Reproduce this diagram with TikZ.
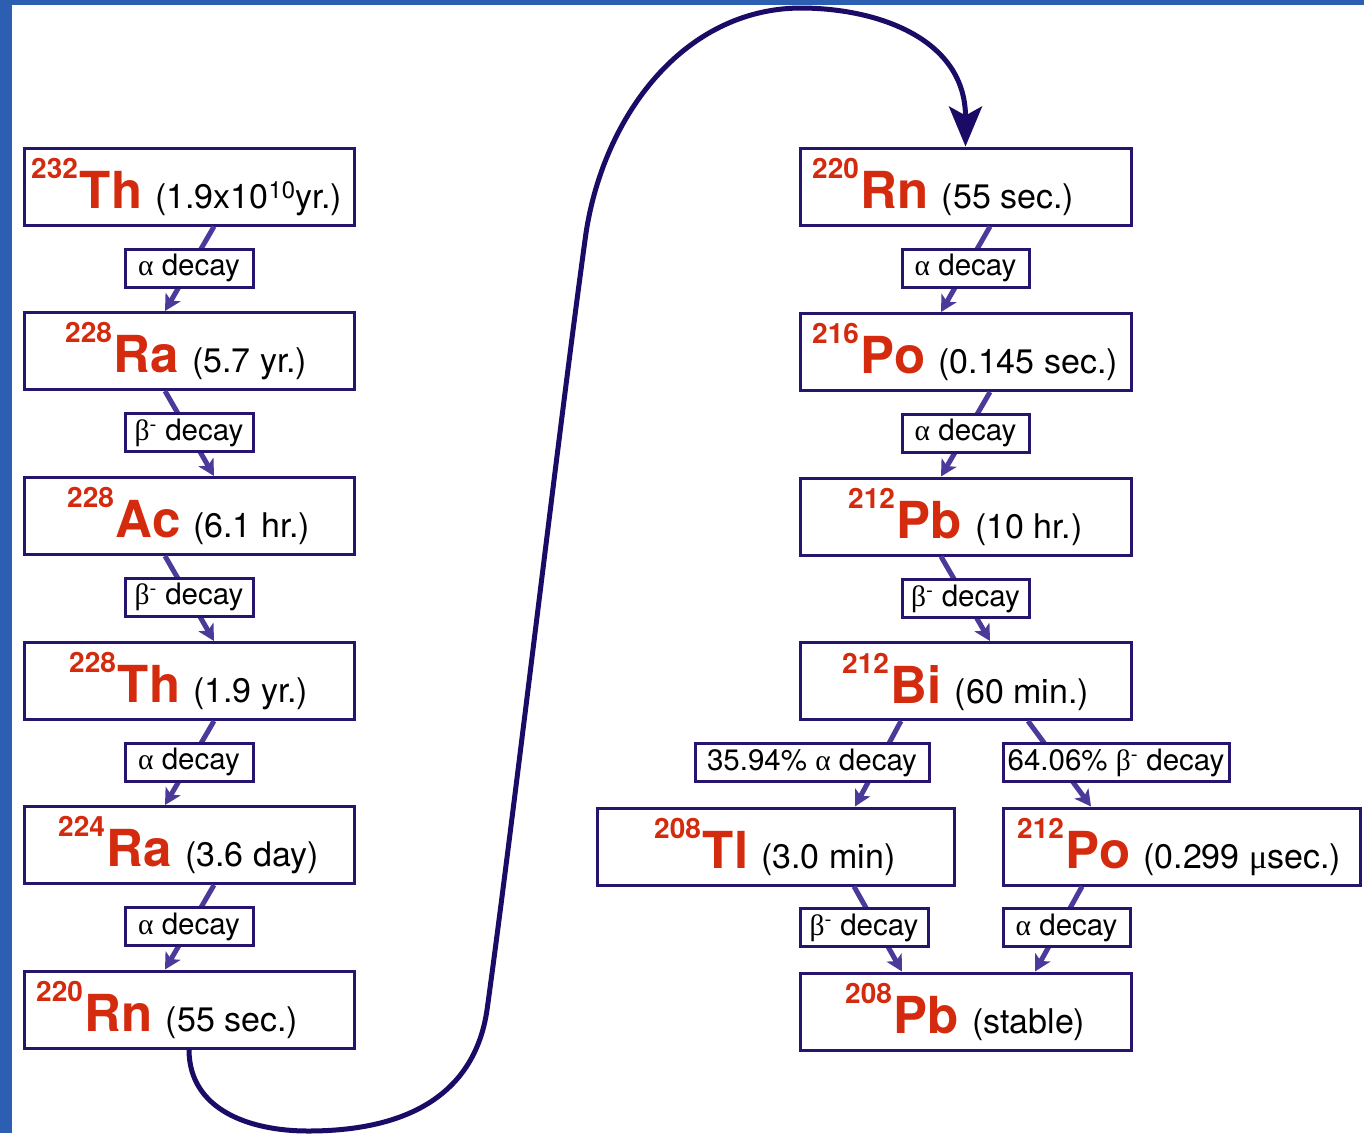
\documentclass[tikz,border=0pt]{standalone}
\usepackage{fontspec}
\setmainfont{TeX Gyre Heros}
\newfontfamily\greekfont{Liberation Serif}
\usetikzlibrary{arrows.meta}

\definecolor{frameblue}{HTML}{2C5FB2}
\definecolor{boxline}{HTML}{27146F}
\definecolor{arrowpurple}{HTML}{4B3A99}
\definecolor{curvenavy}{HTML}{1C0B66}
\definecolor{elemred}{HTML}{D42B0F}

% isotope label pieces: mass number, element symbol, half-life
\newcommand\isonum[1]{\raisebox{30pt}{\color{elemred}\fontsize{28}{28}\selectfont\bfseries #1}\hspace{2pt}}
\newcommand\elsym[1]{{\color{elemred}\fontsize{51}{51}\selectfont\bfseries #1}}
\newcommand\hlife[1]{\hspace{13pt}{\fontsize{34}{34}\selectfont #1}}
\newcommand\galpha{{\greekfont α}}
\newcommand\gbeta{{\greekfont β}\textsuperscript{-}}
\newcommand\gmu{{\greekfont μ}}

\tikzset{
  isobox/.style={draw=boxline, line width=3pt, fill=white, rectangle, inner sep=0pt, minimum height=77pt},
  isotext/.style={anchor=base west, inner sep=0pt},
  decaybox/.style={draw=boxline, line width=3pt, fill=white, rectangle, inner sep=0pt,
    minimum height=38pt, font=\fontsize{29.5}{31}\selectfont},
  decayarrow/.style={draw=arrowpurple, line width=5pt,
    -{Stealth[length=16pt,width=17pt,inset=4pt]}},
  chainlink/.style={draw=curvenavy, line width=5pt,
    -{Stealth[length=40pt,width=33pt,inset=9pt]}}
}

\begin{document}
\begin{tikzpicture}[x=1pt, y=-1pt]
\useasboundingbox (0,0) rectangle (1364,1133);
\fill[white] (0,0) rectangle (1364,1133);
\fill[frameblue] (0,0) rectangle (1364,5);
\fill[frameblue] (0,0) rectangle (12,1133);

% ---- left column: 232Th down to 220Rn ----
\node[isobox, minimum width=330pt] (th232) at (189,186.5) {};
\node[isobox, minimum width=330pt] (ra228) at (189,351) {};
\node[isobox, minimum width=330pt] (ac228) at (189,516) {};
\node[isobox, minimum width=330pt] (th228) at (189,681) {};
\node[isobox, minimum width=330pt] (ra224) at (189,845) {};
\node[isobox, minimum width=330pt] (rn220l) at (189,1009.5) {};

\node[isotext] (th232t) at (31,208) {\isonum{232}\elsym{Th}\hlife{(1.9x10\textsuperscript{10}yr.)}};
\node[isotext] (ra228t) at (65,372) {\isonum{228}\elsym{Ra}\hlife{(5.7 yr.)}};
\node[isotext] (ac228t) at (67,537) {\isonum{228}\elsym{Ac}\hlife{(6.1 hr.)}};
\node[isotext] (th228t) at (69,702) {\isonum{228}\elsym{Th}\hlife{(1.9 yr.)}};
\node[isotext] (ra224t) at (58,866) {\isonum{224}\elsym{Ra}\hlife{(3.6 day)}};
\node[isotext] (rn220lt) at (36,1031) {\isonum{220}\elsym{Rn}\hlife{(55 sec.)}};

% ---- right column: 220Rn down to 208Pb ----
\node[isobox, minimum width=331pt] (rn220r) at (965.5,186.5) {};
\node[isobox, minimum width=331pt] (po216) at (965.5,352) {};
\node[isobox, minimum width=331pt] (pb212) at (965.5,516.5) {};
\node[isobox, minimum width=331pt] (bi212) at (965.5,681) {};
\node[isobox, minimum width=357pt] (tl208) at (775.5,846.5) {};
\node[isobox, minimum width=357pt] (po212) at (1181.5,846.5) {};
\node[isobox, minimum width=331pt] (pb208) at (965.5,1011.5) {};

\node[isotext] (rn220rt) at (812,208) {\isonum{220}\elsym{Rn}\hlife{(55 sec.)}};
\node[isotext] (po216t) at (812,373) {\isonum{216}\elsym{Po}\hlife{(0.145 sec.)}};
\node[isotext] (pb212t) at (848,538) {\isonum{212}\elsym{Pb}\hlife{(10 hr.)}};
\node[isotext] (bi212t) at (842,703) {\isonum{212}\elsym{Bi}\hlife{(60 min.)}};
\node[isotext] (tl208t) at (654,868) {\isonum{208}\elsym{Tl}\hlife{(3.0 min)}};
\node[isotext] (po212t) at (1017,868) {\isonum{212}\elsym{Po}\hlife{(0.299 \gmu sec.)}};
\node[isotext] (pb208t) at (845,1033) {\isonum{208}\elsym{Pb}\hlife{(stable)}};

% ---- decay steps ----
\draw[decayarrow] ([xshift=25pt]th232.south) -- ([xshift=-24pt]ra228.north);
\draw[decayarrow] ([xshift=-24pt]ra228.south) -- ([xshift=25pt]ac228.north);
\draw[decayarrow] ([xshift=-24pt]ac228.south) -- ([xshift=25pt]th228.north);
\draw[decayarrow] ([xshift=25pt]th228.south) -- ([xshift=-24pt]ra224.north);
\draw[decayarrow] ([xshift=25pt]ra224.south) -- ([xshift=-24pt]rn220l.north);

\draw[decayarrow] ([xshift=24.5pt]rn220r.south) -- ([xshift=-24.5pt]po216.north);
\draw[decayarrow] ([xshift=24.5pt]po216.south) -- ([xshift=-24.5pt]pb212.north);
\draw[decayarrow] ([xshift=-24.5pt]pb212.south) -- ([xshift=24.5pt]bi212.north);
\draw[decayarrow] ([xshift=-64.5pt]bi212.south) -- ([xshift=79.5pt]tl208.north);
\draw[decayarrow] ([xshift=62.5pt]bi212.south) -- ([xshift=-90.5pt]po212.north);
\draw[decayarrow] ([xshift=78.5pt]tl208.south) -- ([xshift=-63.5pt]pb208.north);
\draw[decayarrow] ([xshift=-99.5pt]po212.south) -- ([xshift=69.5pt]pb208.north);

% ---- decay mode labels ----
\node[decaybox, minimum width=128pt] (d1) at (189,268) {\galpha\ decay};
\node[decaybox, minimum width=128pt] (d2) at (189,432.5) {\gbeta\ decay};
\node[decaybox, minimum width=128pt] (d3) at (189,597) {\gbeta\ decay};
\node[decaybox, minimum width=128pt] (d4) at (189,762) {\galpha\ decay};
\node[decaybox, minimum width=128pt] (d5) at (189,926.5) {\galpha\ decay};

\node[decaybox, minimum width=127pt] (d6) at (965.5,268) {\galpha\ decay};
\node[decaybox, minimum width=127pt] (d7) at (965.5,433) {\galpha\ decay};
\node[decaybox, minimum width=127pt] (d8) at (965.5,598.5) {\gbeta\ decay};
\node[decaybox, minimum width=234pt] (d9) at (812,762.5) {35.94\% \galpha\ decay};
\node[decaybox, minimum width=226pt] (d10) at (1116,762.5) {64.06\% \gbeta\ decay};
\node[decaybox, minimum width=128pt] (d11) at (864,927.5) {\gbeta\ decay};
\node[decaybox, minimum width=127pt] (d12) at (1066.5,927.5) {\galpha\ decay};

% ---- the chain continues from the left column to the right ----
\draw[chainlink] (rn220l.south)
  .. controls (189,1110) and (250,1131) .. (308,1131)
  .. controls (420,1131) and (476,1085) .. (487,1010)
  .. controls (512,830) and (560,420) .. (586,233)
  .. controls (604,115) and (684,9) .. (800,8)
  .. controls (880,8) and (965.5,40) .. (rn220r.north);
\end{tikzpicture}
\end{document}
